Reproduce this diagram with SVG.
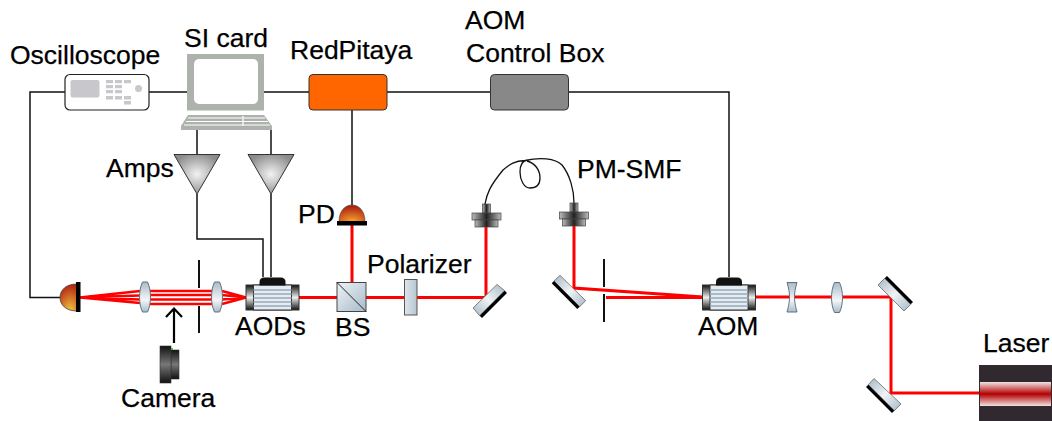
<svg xmlns="http://www.w3.org/2000/svg" width="1052" height="421" viewBox="0 0 1052 421">
<defs>
<linearGradient id="glass" x1="0" y1="0" x2="1" y2="1"><stop offset="0" stop-color="#a4b8c6"/><stop offset=".5" stop-color="#f0f3f5"/><stop offset="1" stop-color="#a4b8c6"/></linearGradient>
<linearGradient id="glass2" x1="0" y1="1" x2="1" y2="0"><stop offset="0" stop-color="#a4b8c6"/><stop offset=".5" stop-color="#f0f3f5"/><stop offset="1" stop-color="#a4b8c6"/></linearGradient>
<linearGradient id="lens" x1="0" y1="0" x2="0" y2="1"><stop offset="0" stop-color="#a9bbc8"/><stop offset=".6" stop-color="#f4f6f8"/><stop offset="1" stop-color="#a9bbc8"/></linearGradient>
<linearGradient id="bsg" x1="0" y1="0" x2="1" y2="1"><stop offset="0" stop-color="#eef2f5"/><stop offset="1" stop-color="#a7bbc9"/></linearGradient>
<linearGradient id="polg" x1="0" y1="0" x2="1" y2="0"><stop offset="0" stop-color="#dfe6eb"/><stop offset="1" stop-color="#b4c5d1"/></linearGradient>
<linearGradient id="cap" x1="0" y1="0" x2="0" y2="1"><stop offset="0" stop-color="#111"/><stop offset=".5" stop-color="#eee"/><stop offset="1" stop-color="#111"/></linearGradient>
<linearGradient id="capx" x1="0" y1="0" x2="1" y2="0"><stop offset="0" stop-color="#bbb"/><stop offset=".5" stop-color="#222"/><stop offset="1" stop-color="#bbb"/></linearGradient>
<linearGradient id="cam" x1="0" y1="0" x2="0" y2="1"><stop offset="0" stop-color="#111"/><stop offset=".5" stop-color="#777"/><stop offset="1" stop-color="#111"/></linearGradient>
<linearGradient id="laser" x1="0" y1="0" x2="0" y2="1"><stop offset="0" stop-color="#f2e4e4"/><stop offset=".5" stop-color="#b30000"/><stop offset="1" stop-color="#f2e4e4"/></linearGradient>
<radialGradient id="amp" cx=".5" cy=".5" r=".55"><stop offset="0" stop-color="#f2f2f2"/><stop offset="1" stop-color="#8c8c8c"/></radialGradient>
<radialGradient id="dome" cx=".5" cy="1" r=".9"><stop offset="0" stop-color="#f5a830"/><stop offset="1" stop-color="#b02010"/></radialGradient>
<radialGradient id="domeL" cx=".6" cy="1" r="1"><stop offset="0" stop-color="#f5c542"/><stop offset="1" stop-color="#b02010"/></radialGradient>
<g id="aod">
<rect x="-26.500" y="-12.500" width="53" height="25" fill="url(#cap)" stroke="#333"/>
<rect x="-19" y="-12.500" width="38" height="25" fill="#e4ebf1" stroke="#333"/>
<path d="M-19-7.500H19M-19-3.500H19M-19 .5H19M-19 4.500H19M-19 8.500H19" stroke="#97abbc" stroke-width="1.700" fill="none"/>
<path d="M-13-12V-15.500Q-13-20-8-20H8Q13-20 13-15.500V-12Z" fill="#111"/>
</g>
<g id="coupler">
<rect x="-4" y="0" width="8" height="9" fill="url(#capx)" stroke="#444" stroke-width=".7"/>
<rect x="-14.500" y="9" width="29" height="7" fill="url(#capx)" stroke="#444" stroke-width=".7"/>
<rect x="-11.500" y="16" width="23" height="7" fill="url(#capx)" stroke="#444" stroke-width=".7"/>
</g>
<g id="convex"><path d="M-2.500-15H2.500C4.500-11 5.500-5 5.500 0S4.500 11 2.500 15H-2.500C-4.500 11-5.500 5-5.500 0S-4.500-11-2.500-15Z" fill="url(#lens)" stroke="#5f717e"/></g>
</defs>
<style>
.t{font-family:"Liberation Sans",Arial,sans-serif;font-size:26.500px;fill:#000;stroke:#000;stroke-width:.25}
.w{fill:none;stroke:#111;stroke-width:1.500}
.r{fill:none;stroke:#f00;stroke-width:3}
.rt{fill:none;stroke:#f00;stroke-width:2.600}
.mb{fill:#000}
.s{stroke:#111;stroke-width:2;fill:none}
.g{stroke:#555;stroke-width:.7}
</style>
<rect width="1052" height="421" fill="#fff"/>
<g id="connectors">
<path class="w" d="M65 92H30V297.500H60M149 92H187M264 92H309M387 92H491M568 92H729V277M352 110V205M197 130V154M271 130V154M197 194V239H263V277M271 194V277"/>
<path d="M485 204C487 193 490 186 503 170C510 164 515 161 525 160.500C540 157 555 158 562 165C570 175 574 190 574 203M527 161C535 163 540 170 540 178C540 186 535 188 530 188C524 188 520 180 520 172C520 166 522 161 527 160" fill="none" stroke="#111" stroke-width="1.300"/>
</g>
<g id="beams">
<path class="r" d="M299 297.500H337M366 297.500H404M417 297.500H486V227M352 282V225M574 226V288L703 297M606 297.500H703M756 297H891V393H980M337 297.500H366"/>
<path class="rt" d="M80 297.500L140 291M80 297.500L140 295.500M80 297.500L140 299.500M80 297.500L140 303M150 291H212M150 295H212M150 299.500H212M150 304H212M222 291L246 297.500M222 295L246 297.500M222 299.500L246 297.500M222 304L246 297.500"/>
</g>
<g id="oscilloscope">
<rect x="65" y="74.500" width="84" height="35.500" rx="5" fill="#fff" stroke="#222" stroke-width="1.200"/>
<rect x="70.500" y="80" width="29" height="17.500" rx="2" fill="#c8c8cc"/>
<path d="M106 80h7v3.300h-7zM115 80h7v3.300h-7zM124 80h7v3.300h-7zM106 85h7v3.300h-7zM115 85h7v3.300h-7zM106 90h7v3.300h-7zM115 90h7v3.300h-7zM106 96h7v3.500h-7zM115 96h7v3.500h-7zM124 96h7v3.500h-7zM124 101h7v3.500h-7z" fill="#c8c8cc"/>
<circle cx="138.500" cy="88.500" r="3.500" fill="#c8c8cc"/>
</g>
<g id="si-card">
<rect x="187" y="54" width="77" height="56.500" fill="#adb3ac"/>
<rect x="194" y="59" width="64" height="45" rx="5" fill="#fff"/>
<path d="M188 115H264L272 126V130H181V126Z" fill="#adb3ac"/>
<path d="M188 118H265M186 121.500H268M184 125H270M243 116V126" stroke="#fff" stroke-width="1.200"/>
</g>
<g id="redpitaya"><rect x="309" y="74.500" width="78" height="35.500" rx="4" fill="#f60" stroke="#333"/></g>
<g id="aom-box"><rect x="490.500" y="74.500" width="78" height="35.500" rx="4" fill="#888" stroke="#333"/></g>
<g id="amp1"><path d="M174 154.500H220L197 194Z" fill="url(#amp)" stroke="#333"/></g>
<g id="amp2"><path d="M248 154.500H294L271 194Z" fill="url(#amp)" stroke="#333"/></g>
<g id="detector"><path d="M77 284C66 284 60 290 60 297.500S66 311 77 311Z" fill="url(#domeL)" stroke="#444" stroke-width=".8"/><rect x="76" y="282" width="4.500" height="30" fill="#000"/></g>
<g id="lens1"><use href="#convex" x="145" y="297"/></g>
<g id="lens2"><use href="#convex" x="217" y="297"/></g>
<g id="slit1"><path class="s" d="M199 260V288M199 306V333"/></g>
<g id="aods"><use href="#aod" x="272.500" y="297.500"/></g>
<g id="camera">
<path d="M174 343V309M166 317L174 308.500L182 317" fill="none" stroke="#000" stroke-width="2.200"/>
<rect x="171" y="350" width="8" height="29" fill="url(#cam)" stroke="#333" stroke-width=".6"/>
<rect x="160" y="346" width="11" height="37" fill="url(#cam)" stroke="#333" stroke-width=".6"/>
<rect x="171" y="348" width="2" height="2" fill="#3c3"/>
</g>
<g id="pd"><path d="M339 221.500C339 211 345 205 352 205S365 211 365 221.500Z" fill="url(#dome)" stroke="#444" stroke-width=".6"/><rect x="337" y="221" width="30" height="4.500" fill="#000"/></g>
<g id="bs"><rect x="337" y="282.500" width="29" height="29" fill="url(#bsg)" stroke="#444"/><path d="M337 282.500L366 311.500" stroke="#222"/></g>
<g id="polarizer"><rect x="404.500" y="279.500" width="12.500" height="35.500" fill="url(#polg)" stroke="#555"/></g>
<g id="mirror1"><path class="g" d="M473 308L497 284.500L504.700 290.700L479.700 315.700Z" fill="url(#glass2)"/><path d="M504.700 290.700L507 293L482 318L479.700 315.700Z" class="mb"/></g>
<g id="coupler-l"><use href="#coupler" x="486.500" y="204"/></g>
<g id="coupler-r"><use href="#coupler" x="574" y="203"/></g>
<g id="mirror2"><path class="g" d="M554 281L560 275.300L585.700 300.700L579.600 306.700Z" fill="url(#glass)"/><path d="M551.700 283.300L554 281L579.600 306.700L577.300 309Z" class="mb"/></g>
<g id="slit2"><path class="s" d="M604 259V287M604 294V322"/></g>
<g id="aom"><use href="#aod" x="729" y="297.500"/></g>
<g id="lens3"><path d="M787 282.500H797C795 289 794.500 293 794.500 297S795 305 797 312H787C789 305 789.500 301 789.500 297S789 289 787 282.500Z" fill="url(#lens)" stroke="#5f717e"/></g>
<g id="lens4"><use href="#convex" x="837" y="297.500"/></g>
<g id="mirror3"><path class="g" d="M878 285L884.700 278.300L910.700 304.300L904 311Z" fill="url(#glass)"/><path d="M884.700 278.300L887 276L913 302L910.700 304.300Z" class="mb"/></g>
<g id="mirror4"><path class="g" d="M868.300 384.700L874 378.500L901 404L894.300 410.700Z" fill="url(#glass)"/><path d="M866 387L868.300 384.700L894.300 410.700L892 413Z" class="mb"/></g>
<g id="laser-src"><rect x="979" y="365" width="73" height="56" fill="#302a30"/><rect x="980" y="382" width="71" height="24" fill="url(#laser)"/></g>
<g id="labels">
<text class="t" x="10" y="64">Oscilloscope</text>
<text class="t" x="184" y="47">SI card</text>
<text class="t" x="290" y="59">RedPitaya</text>
<text class="t" x="465" y="29">AOM</text>
<text class="t" x="466" y="62">Control Box</text>
<text class="t" x="106" y="177">Amps</text>
<text class="t" x="298" y="223">PD</text>
<text class="t" x="367" y="273">Polarizer</text>
<text class="t" x="577" y="178">PM-SMF</text>
<text class="t" x="235" y="335">AODs</text>
<text class="t" x="335" y="336">BS</text>
<text class="t" x="698" y="335">AOM</text>
<text class="t" x="121" y="407">Camera</text>
<text class="t" x="983" y="352">Laser</text>
</g>
</svg>
